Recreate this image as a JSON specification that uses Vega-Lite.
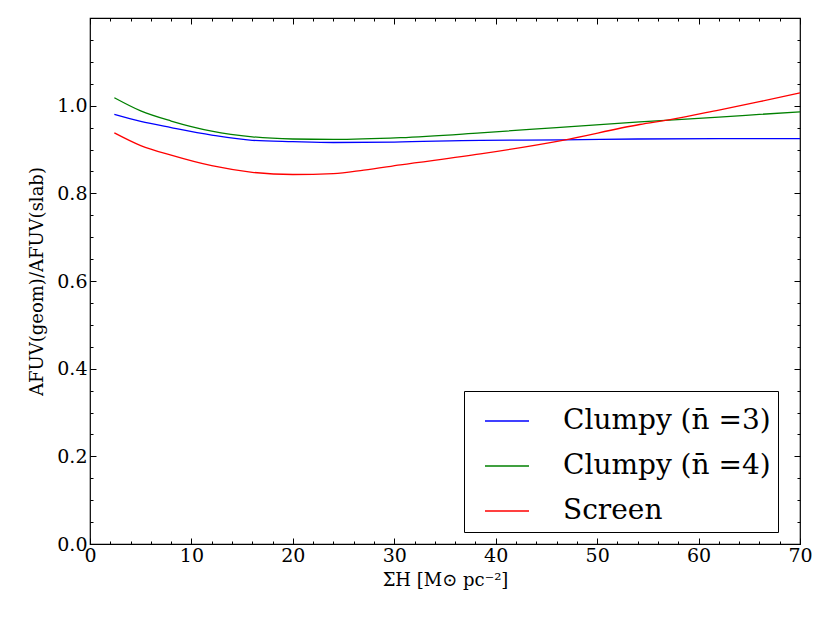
{
  "$schema": "https://vega.github.io/schema/vega-lite/v6.json",
  "width": 710,
  "height": 526,
  "autosize": {"type": "none"},
  "padding": {"left": 90, "top": 18, "right": 30, "bottom": 79},
  "background": "white",
  "config": {
    "view": {"stroke": "black", "strokeWidth": 1.2},
    "font": "DejaVu Serif",
    "axis": {
      "grid": false, "domain": false, "tickColor": "black", "labelColor": "black", "labelFlush": false,
      "labelFont": "DejaVu Serif", "labelFontSize": 19, "titleFont": "DejaVu Serif",
      "titleFontSize": 18, "titleFontWeight": "normal", "titleColor": "black"
    }
  },
  "data": {"values": [
    {"x": 2.4, "y": 0.980, "s": "Clumpy (n̄ =3)"},
    {"x": 5, "y": 0.964, "s": "Clumpy (n̄ =3)"},
    {"x": 8, "y": 0.950, "s": "Clumpy (n̄ =3)"},
    {"x": 12, "y": 0.933, "s": "Clumpy (n̄ =3)"},
    {"x": 16, "y": 0.921, "s": "Clumpy (n̄ =3)"},
    {"x": 20, "y": 0.918, "s": "Clumpy (n̄ =3)"},
    {"x": 24, "y": 0.916, "s": "Clumpy (n̄ =3)"},
    {"x": 30, "y": 0.917, "s": "Clumpy (n̄ =3)"},
    {"x": 38.5, "y": 0.921, "s": "Clumpy (n̄ =3)"},
    {"x": 46.6, "y": 0.922, "s": "Clumpy (n̄ =3)"},
    {"x": 54, "y": 0.924, "s": "Clumpy (n̄ =3)"},
    {"x": 62, "y": 0.925, "s": "Clumpy (n̄ =3)"},
    {"x": 70, "y": 0.925, "s": "Clumpy (n̄ =3)"},
    {"x": 2.4, "y": 1.018, "s": "Clumpy (n̄ =4)"},
    {"x": 5, "y": 0.988, "s": "Clumpy (n̄ =4)"},
    {"x": 8, "y": 0.965, "s": "Clumpy (n̄ =4)"},
    {"x": 12, "y": 0.942, "s": "Clumpy (n̄ =4)"},
    {"x": 16, "y": 0.929, "s": "Clumpy (n̄ =4)"},
    {"x": 20, "y": 0.924, "s": "Clumpy (n̄ =4)"},
    {"x": 24, "y": 0.923, "s": "Clumpy (n̄ =4)"},
    {"x": 30.6, "y": 0.927, "s": "Clumpy (n̄ =4)"},
    {"x": 38.5, "y": 0.938, "s": "Clumpy (n̄ =4)"},
    {"x": 46, "y": 0.950, "s": "Clumpy (n̄ =4)"},
    {"x": 54.2, "y": 0.963, "s": "Clumpy (n̄ =4)"},
    {"x": 62, "y": 0.974, "s": "Clumpy (n̄ =4)"},
    {"x": 66, "y": 0.980, "s": "Clumpy (n̄ =4)"},
    {"x": 70, "y": 0.986, "s": "Clumpy (n̄ =4)"},
    {"x": 2.4, "y": 0.938, "s": "Screen"},
    {"x": 5, "y": 0.909, "s": "Screen"},
    {"x": 8, "y": 0.887, "s": "Screen"},
    {"x": 12, "y": 0.863, "s": "Screen"},
    {"x": 16, "y": 0.848, "s": "Screen"},
    {"x": 20, "y": 0.843, "s": "Screen"},
    {"x": 24, "y": 0.845, "s": "Screen"},
    {"x": 27, "y": 0.853, "s": "Screen"},
    {"x": 30.6, "y": 0.865, "s": "Screen"},
    {"x": 38.5, "y": 0.890, "s": "Screen"},
    {"x": 46.6, "y": 0.921, "s": "Screen"},
    {"x": 54.2, "y": 0.957, "s": "Screen"},
    {"x": 57.2, "y": 0.968, "s": "Screen"},
    {"x": 62, "y": 0.990, "s": "Screen"},
    {"x": 66, "y": 1.009, "s": "Screen"},
    {"x": 70, "y": 1.029, "s": "Screen"}
  ]},
  "layer": [
    {
      "mark": {"type": "line", "strokeWidth": 1.3, "interpolate": "monotone"},
      "encoding": {
        "x": {"field": "x", "type": "quantitative", "scale": {"domain": [0, 70], "nice": false},
          "axis": {"orient": "bottom", "values": [0, 10, 20, 30, 40, 50, 60, 70], "tickSize": -6, "labelPadding": 8, "title": "ΣH  [M⊙ pc⁻²]", "titleFont": "DejaVu Serif", "titlePadding": 6}},
        "y": {"field": "y", "type": "quantitative", "scale": {"domain": [0, 1.2], "nice": false, "zero": true},
          "axis": {"orient": "left", "values": [0, 0.2, 0.4, 0.6, 0.8, 1.0], "format": ".1f", "tickSize": -6, "labelPadding": 9, "title": "AFUV(geom)/AFUV(slab)", "titleFont": "DejaVu Serif", "titlePadding": 10}},
        "color": {"field": "s", "type": "nominal",
          "scale": {"domain": ["Clumpy (n̄ =3)", "Clumpy (n̄ =4)", "Screen"], "range": ["#0000ff", "#008000", "#ff0000"]},
          "legend": {"title": null, "orient": "none", "legendX": 374, "legendY": 373, "symbolType": "stroke", "symbolSize": 1936, "symbolStrokeWidth": 1.3,
            "labelFont": "DejaVu Serif", "labelFontSize": 28, "labelColor": "black", "labelOffset": 33, "rowPadding": 8,
            "padding": 7, "symbolOffset": 13, "strokeColor": "black", "fillColor": "white", "cornerRadius": 0, "labelLimit": 400}}
      }
    },
    {
      "mark": {"type": "line", "strokeOpacity": 0},
      "encoding": {
        "x": {"field": "x", "type": "quantitative", "axis": {"orient": "bottom", "values": [2,4,6,8,12,14,16,18,22,24,26,28,32,34,36,38,42,44,46,48,52,54,56,58,62,64,66,68], "labels": false, "tickSize": -3, "title": null}},
        "y": {"field": "y", "type": "quantitative", "axis": {"orient": "left", "values": [0.05,0.1,0.15,0.25,0.3,0.35,0.45,0.5,0.55,0.65,0.7,0.75,0.85,0.9,0.95,1.05,1.1,1.15], "labels": false, "tickSize": -3, "title": null}},
        "detail": {"field": "s"}
      }
    },
    {
      "mark": {"type": "line", "strokeOpacity": 0},
      "encoding": {
        "x": {"field": "x", "type": "quantitative", "axis": {"orient": "top", "values": [0, 10, 20, 30, 40, 50, 60, 70], "labels": false, "tickSize": -6, "title": null}},
        "y": {"field": "y", "type": "quantitative", "axis": {"orient": "right", "values": [0, 0.2, 0.4, 0.6, 0.8, 1.0], "labels": false, "tickSize": -6, "title": null}},
        "detail": {"field": "s"}
      }
    },
    {
      "mark": {"type": "line", "strokeOpacity": 0},
      "encoding": {
        "x": {"field": "x", "type": "quantitative", "axis": {"orient": "top", "values": [2,4,6,8,12,14,16,18,22,24,26,28,32,34,36,38,42,44,46,48,52,54,56,58,62,64,66,68], "labels": false, "tickSize": -3, "title": null}},
        "y": {"field": "y", "type": "quantitative", "axis": {"orient": "right", "values": [0.05,0.1,0.15,0.25,0.3,0.35,0.45,0.5,0.55,0.65,0.7,0.75,0.85,0.9,0.95,1.05,1.1,1.15], "labels": false, "tickSize": -3, "title": null}},
        "detail": {"field": "s"}
      }
    }
  ],
  "resolve": {"axis": {"x": "independent", "y": "independent"}}
}
